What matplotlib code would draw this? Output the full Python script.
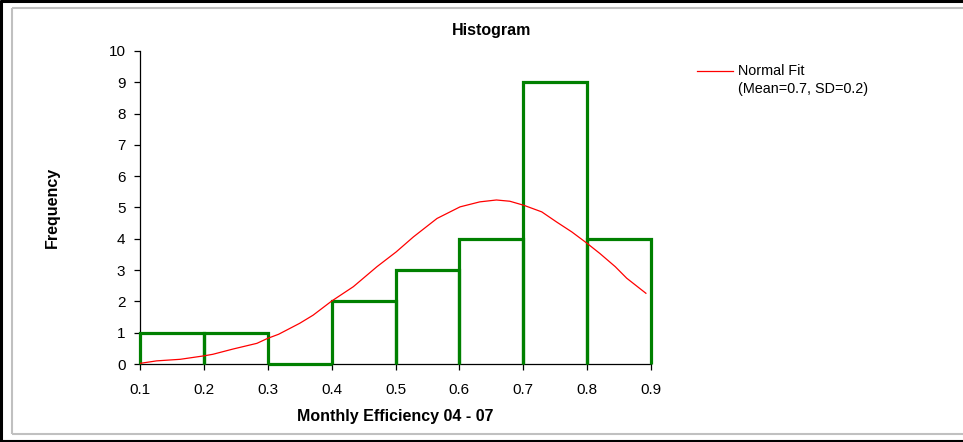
import matplotlib
matplotlib.use("Agg")
import matplotlib.pyplot as plt
from matplotlib.lines import Line2D

plt.rcParams['font.family'] = ['Liberation Sans', 'DejaVu Sans']

# Data
bin_edges = [0.1, 0.2, 0.3, 0.4, 0.5, 0.6, 0.7, 0.8, 0.9]
frequencies = [1, 1, 0, 2, 3, 4, 9, 4]

fit_x = [0.100, 0.126, 0.163, 0.200, 0.214, 0.246, 0.283, 0.300, 0.317, 0.350,
         0.371, 0.400, 0.434, 0.471, 0.501, 0.528, 0.565, 0.601, 0.632, 0.658,
         0.679, 0.701, 0.729, 0.752, 0.776, 0.799, 0.820, 0.844, 0.862, 0.892]
fit_y = [0.02, 0.10, 0.15, 0.26, 0.31, 0.48, 0.66, 0.82, 0.95, 1.30,
         1.56, 2.01, 2.47, 3.11, 3.58, 4.06, 4.65, 5.02, 5.18, 5.24,
         5.20, 5.07, 4.86, 4.54, 4.22, 3.87, 3.53, 3.11, 2.74, 2.26]

x_ticks = [0.1, 0.2, 0.3, 0.4, 0.5, 0.6, 0.7, 0.8, 0.9]
x_ticklabels = ['0.1', '0.2', '0.3', '0.4', '0.5', '0.6', '0.7', '0.8', '0.9']
y_ticks = list(range(0, 11))

W, H = 963, 442
fig = plt.figure(figsize=(W / 100, H / 100), dpi=100)
fig.patch.set_facecolor('white')

# axes placement in pixels
ax_l, ax_r, ax_t, ax_b = 140, 651, 51, 364
ax = fig.add_axes([ax_l / W, 1 - ax_b / H, (ax_r - ax_l) / W, (ax_b - ax_t) / H])

green = '#008000'
for i, h in enumerate(frequencies):
    l, r = bin_edges[i], bin_edges[i + 1]
    ax.plot([l, l, r, r], [0, h, h, 0], color=green, lw=2.3,
            solid_joinstyle='miter', solid_capstyle='butt', zorder=3, clip_on=False)

ax.plot(fit_x, fit_y, color='#ff0000', lw=0.9, zorder=4, label='Normal Fit')

ax.set_xlim(0.1, 0.9)
ax.set_ylim(0, 10)
ax.set_xticks(x_ticks)
ax.set_xticklabels(x_ticklabels)
ax.set_yticks(y_ticks)
for s in ['top', 'right']:
    ax.spines[s].set_visible(False)
for s in ['left', 'bottom']:
    ax.spines[s].set_linewidth(0.9)
    ax.spines[s].set_color('black')
ax.tick_params(axis='both', direction='out', length=4.5, width=0.9,
               labelsize=11, colors='black')
ax.tick_params(axis='y', pad=6)
ax.tick_params(axis='x', pad=9)

ax.set_xlabel('Monthly Efficiency 04 - 07', fontsize=11.5, fontweight='bold')
ax.set_ylabel('Frequency', fontsize=11.5, fontweight='bold')
ax.yaxis.set_label_coords((52 - ax_l) / (ax_r - ax_l), 0.5)
ax.xaxis.set_label_coords(0.5, -(417 - ax_b) / (ax_b - ax_t))
ax.xaxis.label.set_va('center')
ax.yaxis.label.set_va('center')

fig.text(492 / W, 1 - 31 / H, 'Histogram', fontsize=11.5, fontweight='bold',
         ha='center', va='center')

# legend (manual, in figure pixels)
fig.add_artist(Line2D([697 / W, 733 / W], [1 - 71 / H, 1 - 71 / H],
                      color='#ff0000', lw=0.9, transform=fig.transFigure))
fig.text(738 / W, 1 - 71 / H, 'Normal Fit', fontsize=10.4, ha='left', va='center')
fig.text(738 / W, 1 - 89 / H, '(Mean=0.7, SD=0.2)', fontsize=10.4, ha='left', va='center')

# frames
def hline(y, x0, x1, color, lw):
    fig.add_artist(Line2D([x0 / W, x1 / W], [1 - y / H, 1 - y / H], color=color, lw=lw,
                          transform=fig.transFigure, solid_capstyle='butt'))

def vline(x, y0, y1, color, lw):
    fig.add_artist(Line2D([x / W, x / W], [1 - y0 / H, 1 - y1 / H], color=color, lw=lw,
                          transform=fig.transFigure, solid_capstyle='butt'))

gray = '#c0c0c0'
hline(8, 12, W, gray, 1.5)
hline(433.5, 12, W, gray, 1.5)
vline(12, 8, 433.5, gray, 1.5)
hline(1, 0, W, 'black', 2.2)
hline(441, 0, W, 'black', 1.5)
vline(1, 0, H, 'black', 2.2)

fig.savefig('out.png', dpi=100, facecolor='white')
